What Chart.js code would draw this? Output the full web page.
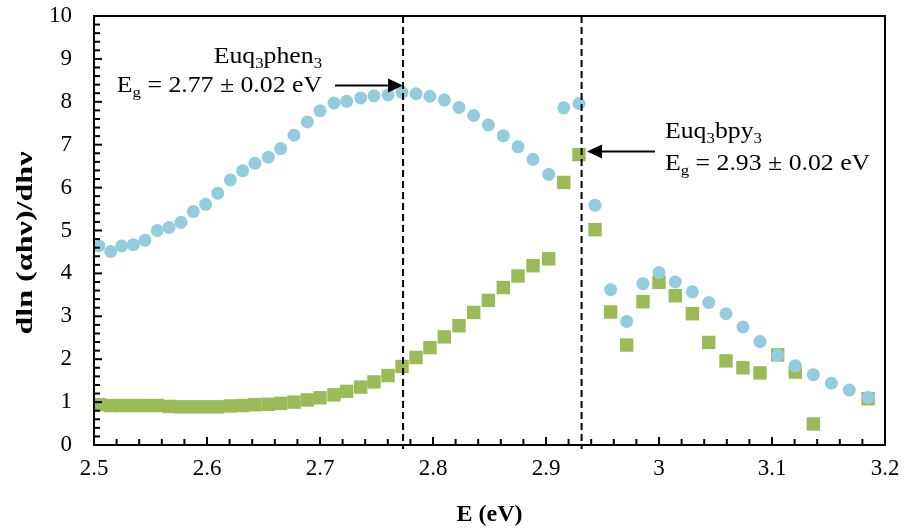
<!DOCTYPE html>
<html><head><meta charset="utf-8">
<script src="https://cdn.jsdelivr.net/npm/chart.js@4/dist/chart.umd.min.js"></script>
<style>html,body{margin:0;padding:0;background:#fff}#wrap{width:906px;height:531px;position:relative}</style>
</head><body><div id="wrap"><canvas id="c" width="906" height="531"></canvas></div>
<script>
// ---- data ----
const energy = [2.5044, 2.5148, 2.5245, 2.5348, 2.5451, 2.556, 2.5664, 2.577, 2.5879, 2.5988,
  2.6095, 2.6206, 2.6316, 2.6425, 2.6543, 2.6652, 2.677, 2.6888, 2.7, 2.7124,
  2.7236, 2.736, 2.7478, 2.7602, 2.7726, 2.785, 2.7973, 2.81, 2.823, 2.836,
  2.849, 2.8622, 2.8752, 2.8885, 2.9024, 2.9157, 2.9292, 2.9434, 2.9572, 2.9714,
  2.9858, 3.0, 3.0144, 3.0295, 3.044, 3.0593, 3.0743, 3.0894, 3.105, 3.1206,
  3.1366, 3.1525, 3.1684, 3.185];
const euqPhen = [4.64, 4.51, 4.64, 4.67, 4.77, 5.00, 5.07, 5.19, 5.44, 5.61,
  5.87, 6.18, 6.39, 6.57, 6.71, 6.91, 7.22, 7.53, 7.79, 7.97,
  8.01, 8.09, 8.14, 8.16, 8.22, 8.19, 8.13, 8.04, 7.87, 7.68,
  7.46, 7.21, 6.95, 6.66, 6.31, 7.86, 7.96, 5.59, 3.62, 2.88,
  3.76, 4.02, 3.80, 3.57, 3.32, 3.06, 2.75, 2.41, 2.09, 1.85,
  1.64, 1.44, 1.28, 1.11];
const euqBpy = [0.94, 0.92, 0.92, 0.92, 0.92, 0.92, 0.90, 0.89, 0.89, 0.89,
  0.89, 0.91, 0.92, 0.94, 0.95, 0.97, 1.00, 1.05, 1.10, 1.17,
  1.25, 1.35, 1.47, 1.62, 1.83, 2.04, 2.27, 2.52, 2.78, 3.09,
  3.37, 3.67, 3.94, 4.18, 4.34, 6.12, 6.77, 5.02, 3.10, 2.33,
  3.34, 3.79, 3.48, 3.06, 2.39, 1.96, 1.80, 1.68, 2.10, 1.70,
  0.49, null, null, 1.08];
const xTickLabels = ['2.5', '2.6', '2.7', '2.8', '2.9', '3', '3.1', '3.2'];
const yTickLabels = ['0', '1', '2', '3', '4', '5', '6', '7', '8', '9', '10'];
const gapEnergies = [2.7735, 2.9315];
const phenLabel1 = [['Euq', false], ['3', true], ['phen', false], ['3', true]];
const phenLabel2 = [['E', false], ['g', true], [' = 2.77 \u00b1 0.02 eV', false]];
const bpyLabel1 = [['Euq', false], ['3', true], ['bpy', false], ['3', true]];
const bpyLabel2 = [['E', false], ['g', true], [' = 2.93 \u00b1 0.02 eV', false]];
const xTitle = 'E (eV)';
const yTitle = 'dln (\u03b1h\u03bd)/dh\u03bd';

const FONT = '"Liberation Serif", "Times New Roman", serif';
const BASE = 23, SUB = 15, STRETCH = 1.12;

function drawRich(ctx, parts, x, y, align) {
  let w = 0;
  parts.forEach(([t, s]) => { ctx.font = (s ? SUB : BASE) + 'px ' + FONT; w += ctx.measureText(t).width; });
  w *= STRETCH;
  const start = align === 'right' ? x - w : x;
  ctx.save();
  ctx.translate(start, y);
  ctx.scale(STRETCH, 1);
  ctx.textAlign = 'left'; ctx.textBaseline = 'alphabetic';
  let cx = 0;
  parts.forEach(([t, s]) => {
    ctx.font = (s ? SUB : BASE) + 'px ' + FONT;
    ctx.fillText(t, cx, s ? 5 : 0);
    cx += ctx.measureText(t).width;
  });
  ctx.restore();
}
function arrow(ctx, x0, y0, x1, y1) {
  const dir = Math.sign(x1 - x0);
  ctx.lineWidth = 2;
  ctx.beginPath(); ctx.moveTo(x0, y0); ctx.lineTo(x1 - dir * 12, y1); ctx.stroke();
  ctx.beginPath(); ctx.moveTo(x1, y1); ctx.lineTo(x1 - dir * 15, y1 - 7); ctx.lineTo(x1 - dir * 15, y1 + 7); ctx.closePath(); ctx.fill();
}

const decor = {
  id: 'decor',
  afterDatasetsDraw(chart) {
    const {ctx, chartArea: a, scales: {x, y}} = chart;
    ctx.save();
    ctx.strokeStyle = '#000'; ctx.fillStyle = '#000';
    // dashed band-gap lines
    ctx.lineWidth = 2; ctx.setLineDash([7, 4]);
    gapEnergies.forEach(v => {
      const px = x.getPixelForValue(v);
      ctx.beginPath(); ctx.moveTo(px, a.top); ctx.lineTo(px, a.bottom + 4); ctx.stroke();
    });
    ctx.setLineDash([]);
    // frame
    ctx.lineWidth = 2;
    ctx.strokeRect(a.left, a.top, a.right - a.left, a.bottom - a.top);
    // inside ticks
    for (let i = 0; i <= 50; i++) {
      const py = y.getPixelForValue(i * 0.2);
      const len = i % 5 === 0 ? 8 : 6;
      ctx.beginPath(); ctx.moveTo(a.left, py); ctx.lineTo(a.left + len, py); ctx.stroke();
    }
    for (let i = 0; i <= 35; i++) {
      const px = x.getPixelForValue(2.5 + i * 0.02);
      const len = i % 5 === 0 ? 8 : 6;
      ctx.beginPath(); ctx.moveTo(px, a.bottom); ctx.lineTo(px, a.bottom - len); ctx.stroke();
    }
    // arrows
    arrow(ctx, x.getPixelForValue(2.7133), y.getPixelForValue(8.38), x.getPixelForValue(gapEnergies[0]), y.getPixelForValue(8.38));
    arrow(ctx, x.getPixelForValue(2.9965), y.getPixelForValue(6.84), x.getPixelForValue(2.9363), y.getPixelForValue(6.84));
    // annotation text
    drawRich(ctx, phenLabel1, x.getPixelForValue(2.7018), y.getPixelForValue(8.91), 'right');
    drawRich(ctx, phenLabel2, x.getPixelForValue(2.7018), y.getPixelForValue(8.22), 'right');
    drawRich(ctx, bpyLabel1, x.getPixelForValue(3.0053), y.getPixelForValue(7.16), 'left');
    drawRich(ctx, bpyLabel2, x.getPixelForValue(3.0053), y.getPixelForValue(6.42), 'left');
    // y axis title
    ctx.save();
    ctx.font = 'bold 23px ' + FONT;
    const tw = ctx.measureText(yTitle).width;
    ctx.translate(26, 243);
    ctx.rotate(-Math.PI / 2);
    ctx.scale(183 / tw, 1);
    ctx.textAlign = 'center'; ctx.textBaseline = 'middle';
    ctx.fillText(yTitle, 0, 0);
    ctx.restore();
    ctx.restore();
  }
};

new Chart(document.getElementById('c'), {
  type: 'scatter',
  data: {
    datasets: [
      { label: 'Euq3phen3', data: energy.map((e, i) => ({x: e, y: euqPhen[i]})),
        pointStyle: 'circle', pointRadius: 6.5, backgroundColor: '#93CDDD', borderWidth: 0 },
      { label: 'Euq3bpy3', data: energy.map((e, i) => ({x: e, y: euqBpy[i]})),
        pointStyle: 'rect', pointRadius: 9.5, backgroundColor: '#9BBB59', borderWidth: 0 }
    ]
  },
  options: {
    responsive: false, animation: false, devicePixelRatio: 1,
    layout: { padding: { left: 0, right: 21, top: 16, bottom: 0 } },
    plugins: { legend: { display: false }, tooltip: { enabled: false } },
    scales: {
      x: {
        type: 'linear', min: 2.5, max: 3.2,
        grid: { display: false, drawTicks: false }, border: { display: false },
        ticks: { stepSize: 0.1, padding: 10, color: '#000', font: { family: FONT, size: 23 },
          callback: v => xTickLabels[Math.round((v - 2.5) * 10)] },
        title: { display: true, text: xTitle, color: '#000', font: { family: FONT, size: 24, weight: 'bold' }, padding: { top: 0, bottom: 2 } },
        afterFit: s => { s.height = 86; s.paddingLeft = 0; s.paddingRight = 0; }
      },
      y: {
        min: 0, max: 10,
        grid: { display: false, drawTicks: false }, border: { display: false },
        ticks: { stepSize: 1, padding: 22, color: '#000', font: { family: FONT, size: 23 },
          callback: v => yTickLabels[Math.round(v)] },
        afterFit: s => { s.width = 94; s.paddingTop = 0; s.paddingBottom = 0; }
      }
    }
  },
  plugins: [decor]
});
</script></body></html>
